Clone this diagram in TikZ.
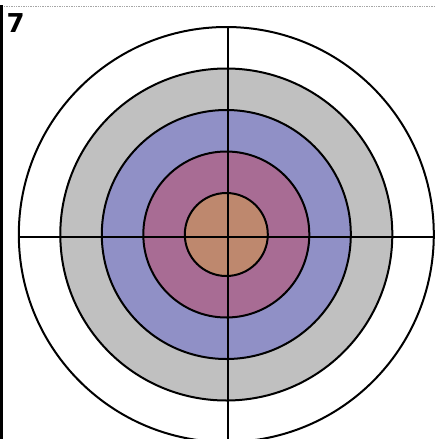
\documentclass[tikz,border=0pt]{standalone}
\usepackage{fontspec}
\newfontfamily\labelfont{DejaVu Sans}
\definecolor{ringgray}{RGB}{192,192,192}
\definecolor{ringblue}{RGB}{144,144,198}
\definecolor{ringpurple}{RGB}{168,108,148}
\definecolor{ringbrown}{RGB}{190,136,110}
\begin{document}
\begin{tikzpicture}[x=1pt,y=-1pt,
  ring/.style={draw=black,line width=2pt},
  crossline/.style={draw=black,line width=2pt}]
\useasboundingbox (0,0) rectangle (436,439);
\clip (0,0) rectangle (436,439);
\fill[white] (0,0) rectangle (436,439);
% top dotted rule
\draw[gray!70,line width=1.3pt,dash pattern=on 1.4pt off 1pt] (4,6.5) -- (436,6.5);
% left bar
\fill[black] (0,5) rectangle (3,439);
% label
\node[font=\labelfont\bfseries\fontsize{26}{26}\selectfont,anchor=base west,inner sep=0pt] (lbl) at (6.5,32.5) {7};
% target
\coordinate (c) at (226.3,234.5);
\draw[ring,fill=white] (c) circle[radius=207.5];
\draw[ring,fill=ringgray] (c) circle[radius=166];
\draw[ring,fill=ringblue] (c) circle[radius=124.5];
\draw[ring,fill=ringpurple] (c) circle[radius=83];
\draw[ring,fill=ringbrown] (c) circle[radius=41.5];
% cross
\coordinate (hl) at (19,236.7);
\coordinate (hr) at (434,236.7);
\coordinate (vt) at (227.7,28);
\coordinate (vb) at (227.7,450);
\draw[crossline] (hl) -- (hr);
\draw[crossline] (vt) -- (vb);
\end{tikzpicture}
\end{document}
